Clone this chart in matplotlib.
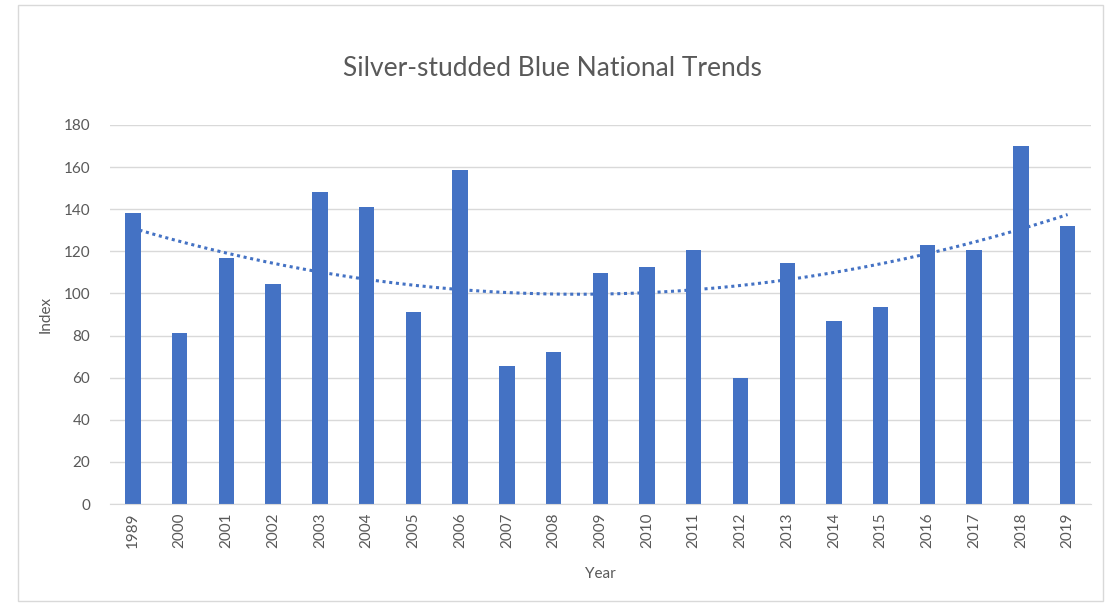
import numpy as np
import matplotlib
matplotlib.use("Agg")
import matplotlib.pyplot as plt
from matplotlib.patches import Rectangle

years = ["1989", "2000", "2001", "2002", "2003", "2004", "2005", "2006", "2007", "2008",
         "2009", "2010", "2011", "2012", "2013", "2014", "2015", "2016", "2017", "2018", "2019"]
index_values = [138, 81, 117, 104.5, 148, 141, 91, 158.5, 65.5, 72, 109.5, 112.5, 120.5,
                60, 114.5, 87, 93.5, 123, 120.5, 170, 132]
y_ticks = [0, 20, 40, 60, 80, 100, 120, 140, 160, 180]

plt.rcParams['font.family'] = ['Lato', 'DejaVu Sans']
text_color = "#595959"
bar_color = "#4472C4"

fig = plt.figure(figsize=(11.05, 6.05), dpi=100)
fig.patches.append(Rectangle((18/1105, 4/605), 1 - 20/1105, 1 - 9/605, transform=fig.transFigure,
                             fill=False, edgecolor="#d9d9d9", linewidth=1))
ax = fig.add_axes([0.0992, 0.1669, 0.8881, 0.6265])

x = np.arange(len(years))
ax.bar(x, index_values, width=0.33, color=bar_color, zorder=2)

coef = np.polyfit(x + 1, index_values, 2)
xs = np.linspace(0, len(years) - 1, 200)
ax.plot(xs, np.polyval(coef, xs + 1), linestyle=(0, (1, 1.2)), color=bar_color, linewidth=2.2, zorder=3)

ax.set_xlim(-0.5, len(years) - 0.5)
ax.set_ylim(0, 180)
ax.set_yticks(y_ticks)
ax.set_xticks(x)
ax.set_xticklabels(years, rotation=90, fontsize=11, color=text_color)
ax.tick_params(axis='y', labelsize=11, labelcolor=text_color, length=0, pad=14)
ax.tick_params(axis='x', length=0, pad=6)
ax.grid(axis='y', color="#d9d9d9", linewidth=1, zorder=0)
for s in ["top", "right", "left"]:
    ax.spines[s].set_visible(False)
ax.spines["bottom"].set_color("#d9d9d9")
ax.set_axisbelow(True)

ax.set_ylabel("Index", fontsize=11, color=text_color, labelpad=8)
ax.set_xlabel("Year", fontsize=11, color=text_color, labelpad=14)
fig.text(0.5, 1 - 68/605, "Silver-studded Blue National Trends", ha="center", va="center",
         fontsize=19, color=text_color)

fig.savefig("out.png", dpi=100, facecolor="white")
